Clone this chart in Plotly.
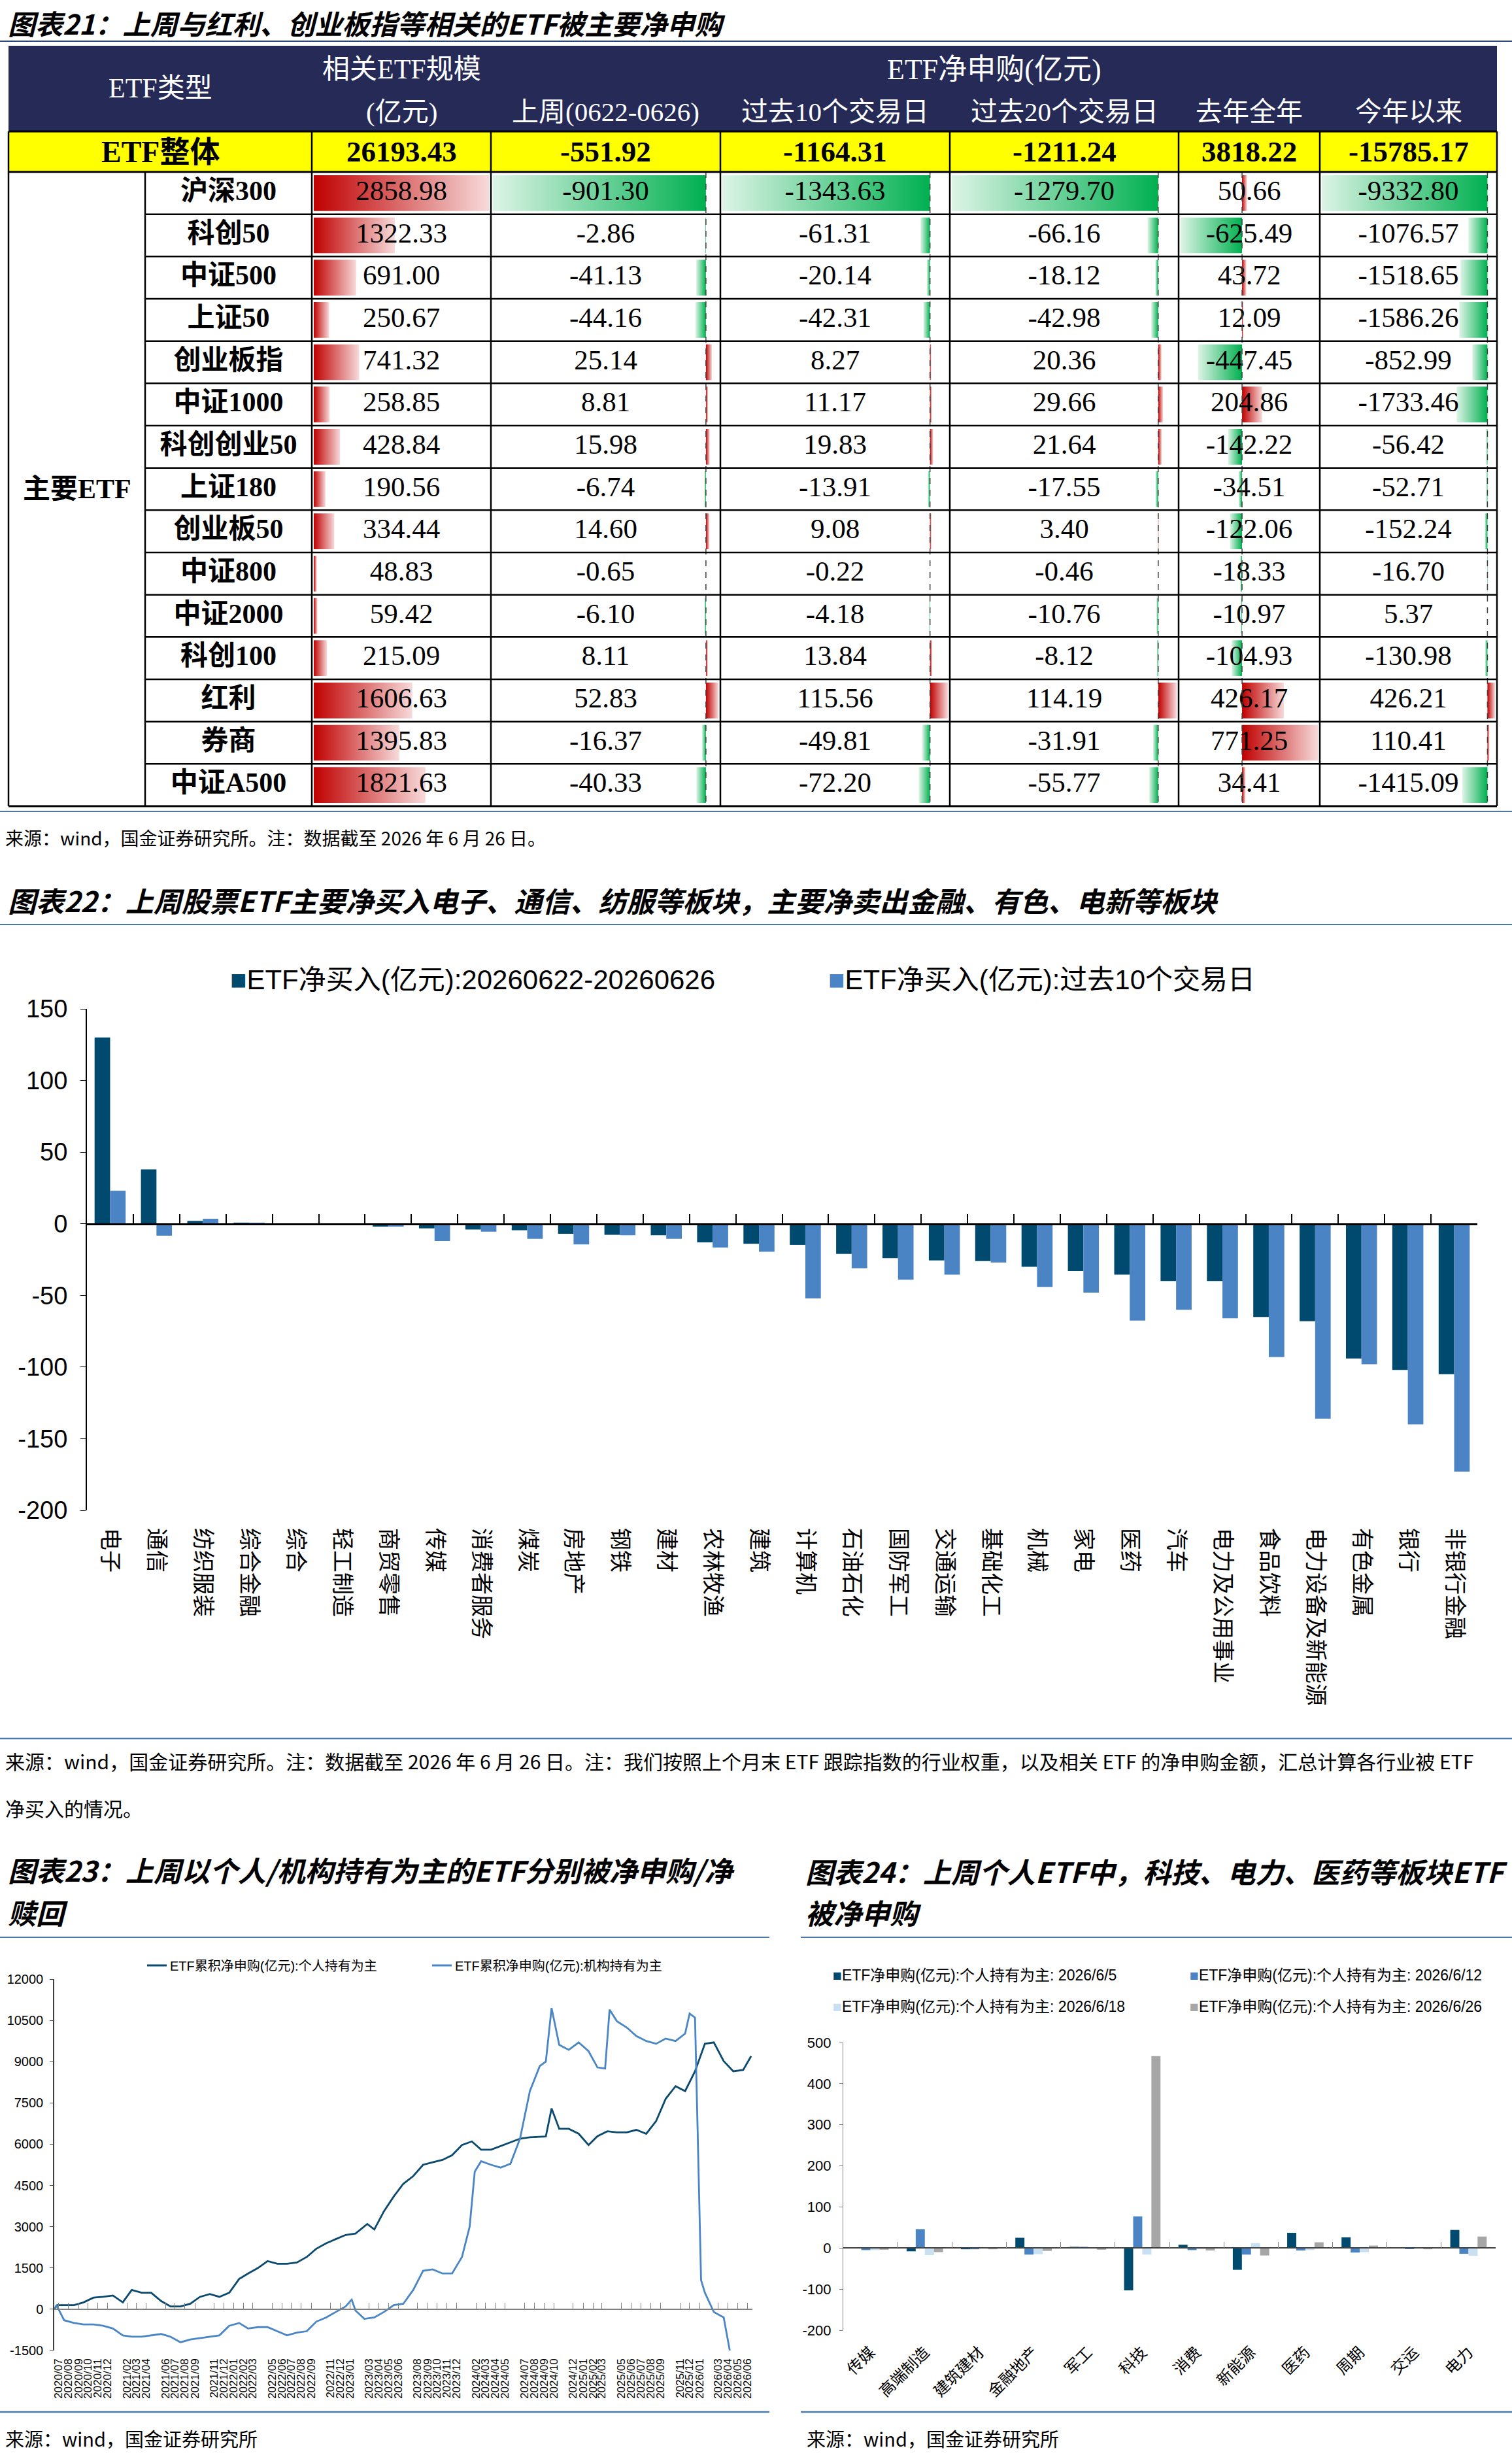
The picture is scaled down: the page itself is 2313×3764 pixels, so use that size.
import plotly.graph_objects as go

W, H = 2313, 3764

# ---------- 图表21：表格数据 ----------
etf_names = ["沪深300", "科创50", "中证500", "上证50", "创业板指", "中证1000", "科创创业50",
             "上证180", "创业板50", "中证800", "中证2000", "科创100", "红利", "券商", "中证A500"]
etf_scale = [2858.98, 1322.33, 691.00, 250.67, 741.32, 258.85, 428.84, 190.56, 334.44,
             48.83, 59.42, 215.09, 1606.63, 1395.83, 1821.63]
last_week = [-901.30, -2.86, -41.13, -44.16, 25.14, 8.81, 15.98, -6.74, 14.60,
             -0.65, -6.10, 8.11, 52.83, -16.37, -40.33]
past10 = [-1343.63, -61.31, -20.14, -42.31, 8.27, 11.17, 19.83, -13.91, 9.08,
          -0.22, -4.18, 13.84, 115.56, -49.81, -72.20]
past20 = [-1279.70, -66.16, -18.12, -42.98, 20.36, 29.66, 21.64, -17.55, 3.40,
          -0.46, -10.76, -8.12, 114.19, -31.91, -55.77]
last_year = [50.66, -625.49, 43.72, 12.09, -447.45, 204.86, -142.22, -34.51, -122.06,
             -18.33, -10.97, -104.93, 426.17, 771.25, 34.41]
ytd = [-9332.80, -1076.57, -1518.65, -1586.26, -852.99, -1733.46, -56.42, -52.71, -152.24,
       -16.70, 5.37, -130.98, 426.21, 110.41, -1415.09]
total_row = [26193.43, -551.92, -1164.31, -1211.24, 3818.22, -15785.17]
head_sub = ["(亿元)", "上周(0622-0626)", "过去10个交易日", "过去20个交易日", "去年全年", "今年以来"]

# ---------- 图表22 ----------
ind22 = ["电子", "通信", "纺织服装", "综合金融", "综合", "轻工制造", "商贸零售", "传媒", "消费者服务",
         "煤炭", "房地产", "钢铁", "建材", "农林牧渔", "建筑", "计算机", "石油石化", "国防军工",
         "交通运输", "基础化工", "机械", "家电", "医药", "汽车", "电力及公用事业", "食品饮料",
         "电力设备及新能源", "有色金属", "银行", "非银行金融"]
week22 = [130, 38, 2, 0.5, -0.5, -1, -2, -3.2, -4, -4.5, -7, -7.7, -8, -13, -14, -14.7, -21,
          -24, -25.6, -26, -30, -33, -35.5, -40, -40, -65, -68, -94, -102, -105]
days10_22 = [23, -8.3, 3.5, 0.5, -0.5, -1, -2, -12, -5.5, -10.5, -14.4, -8, -10.5, -16.6, -19.5,
             -52, -31, -39, -35.5, -27, -44, -48, -67.5, -60, -66, -93, -136, -98, -140, -173]
y22_ticks = [-200, -150, -100, -50, 0, 50, 100, 150]

# ---------- 图表23 ----------
personal_dates = ["2020-07-01", "2020-07-10", "2020-08-01", "2020-09-01", "2020-10-01", "2020-11-01",
                  "2020-12-01", "2021-01-01", "2021-02-01", "2021-03-01", "2021-04-01", "2021-05-01",
                  "2021-06-01", "2021-07-01", "2021-08-01", "2021-09-01", "2021-10-01", "2021-11-01",
                  "2021-12-01", "2022-01-01", "2022-02-01", "2022-03-01", "2022-04-01", "2022-05-01",
                  "2022-06-01", "2022-07-01", "2022-08-01", "2022-09-01", "2022-10-01", "2022-11-01",
                  "2022-12-01", "2023-01-01", "2023-02-01", "2023-03-01", "2023-03-10", "2023-04-01",
                  "2023-05-01", "2023-06-01", "2023-07-01", "2023-08-01", "2023-09-01", "2023-10-01",
                  "2023-11-01", "2023-12-01", "2024-01-01", "2024-02-01", "2024-03-01", "2024-04-01",
                  "2024-05-01", "2024-06-01", "2024-07-01", "2024-08-01", "2024-09-20", "2024-10-08",
                  "2024-11-01", "2024-12-01", "2025-01-01", "2025-02-01", "2025-03-01", "2025-04-01",
                  "2025-05-01", "2025-06-01", "2025-07-01", "2025-08-01", "2025-09-01", "2025-10-01",
                  "2025-11-01", "2025-12-01", "2026-01-01", "2026-02-01", "2026-03-01", "2026-04-01",
                  "2026-05-01", "2026-06-01", "2026-06-26"]
personal_vals = [0, 150, 150, 150, 250, 420, 450, 500, 250, 700, 600, 600, 300, 100, 100, 200, 450, 550,
                 450, 600, 1100, 1300, 1500, 1750, 1650, 1650, 1700, 1900, 2200, 2400, 2550, 2700, 2750,
                 3000, 3100, 2900, 3560, 4100, 4560, 4840, 5250, 5340, 5430, 5600, 5970, 6100, 5800, 5800,
                 5930, 6060, 6200, 6250, 6280, 7300, 6560, 6560, 6380, 5970, 6290, 6470, 6430, 6430, 6520,
                 6380, 6840, 7650, 8110, 7930, 8650, 9650, 9700, 9020, 8650, 8700, 9200]
inst_dates = ["2020-07-01", "2020-07-08", "2020-08-01", "2020-09-01", "2020-10-01", "2020-11-01",
              "2020-12-01", "2021-01-01", "2021-02-01", "2021-03-01", "2021-04-01", "2021-05-01",
              "2021-06-01", "2021-07-01", "2021-08-01", "2021-09-01", "2021-10-01", "2021-11-01",
              "2021-12-01", "2022-01-01", "2022-02-01", "2022-03-01", "2022-04-01", "2022-05-01",
              "2022-06-01", "2022-07-01", "2022-08-01", "2022-09-01", "2022-10-01", "2022-11-01",
              "2022-12-01", "2023-01-01", "2023-01-20", "2023-02-01", "2023-03-01", "2023-04-01",
              "2023-05-01", "2023-06-01", "2023-07-01", "2023-08-01", "2023-09-01", "2023-10-01",
              "2023-11-01", "2023-12-01", "2024-01-01", "2024-01-25", "2024-02-10", "2024-03-01",
              "2024-04-01", "2024-05-01", "2024-06-01", "2024-07-01", "2024-08-01", "2024-09-01",
              "2024-09-20", "2024-10-08", "2024-11-01", "2024-12-01", "2025-01-01", "2025-02-01",
              "2025-03-01", "2025-03-25", "2025-04-08", "2025-05-01", "2025-06-01", "2025-07-01",
              "2025-08-01", "2025-09-01", "2025-10-01", "2025-11-01", "2025-12-01", "2025-12-15",
              "2026-01-01", "2026-01-20", "2026-02-01", "2026-03-01", "2026-04-01", "2026-04-20"]
inst_vals = [0, 150, -400, -500, -550, -550, -600, -700, -950, -1000, -1000, -950, -900, -1000, -1200,
             -1100, -1050, -1000, -950, -600, -500, -700, -650, -650, -800, -950, -850, -800, -450, -300,
             -100, 100, 350, -50, -350, -300, -100, 150, 200, 700, 1400, 1450, 1300, 1300, 1900, 3000,
             5000, 5380, 5250, 5150, 5290, 6200, 7930, 8840, 9000, 10950, 9610, 9430, 9700, 9380, 8790,
             8750, 10890, 10470, 10240, 9930, 9750, 9650, 9840, 9750, 10020, 10750, 10600, 1060, 600,
             -100, -300, -1500]
x23_labels = ["2020/07", "2020/08", "2020/09", "2020/10", "2020/11", "2020/12", "2021/02", "2021/03",
              "2021/04", "2021/06", "2021/07", "2021/08", "2021/09", "2021/11", "2021/12", "2022/01",
              "2022/02", "2022/03", "2022/05", "2022/06", "2022/07", "2022/08", "2022/09", "2022/11",
              "2022/12", "2023/01", "2023/03", "2023/04", "2023/05", "2023/06", "2023/08", "2023/09",
              "2023/10", "2023/11", "2023/12", "2024/02", "2024/03", "2024/04", "2024/05", "2024/07",
              "2024/08", "2024/09", "2024/10", "2024/12", "2025/01", "2025/02", "2025/03", "2025/05",
              "2025/06", "2025/07", "2025/08", "2025/09", "2025/11", "2025/12", "2026/01", "2026/03",
              "2026/04", "2026/05", "2026/06"]
y23_ticks = [-1500, 0, 1500, 3000, 4500, 6000, 7500, 9000, 10500, 12000]

# ---------- 图表24 ----------
sect24 = ["传媒", "高端制造", "建筑建材", "金融地产", "军工", "科技", "消费", "新能源", "医药", "周期", "交运", "电力"]
s24_0605 = [2, -8, -3, 25, 3, -103, 8, -53, 37, 26, 2, 44]
s24_0612 = [-5, 46, -3, -16, 3, 77, -5, -16, -6, -11, -2, -14]
s24_0618 = [-5, -17, -1, -15, 1, -16, -3, 12, -5, -10, 1, -19]
s24_0626 = [-4, -10, -3, -7, -4, 467, -6, -18, 14, 6, -3, 28]
y24_ticks = [-200, -100, 0, 100, 200, 300, 400, 500]

# ---------- styles ----------
SERIF = "Liberation Serif, Noto Sans CJK SC"
SANS = "Liberation Sans, Noto Sans CJK SC"
NARROW = "Liberation Sans Narrow, Liberation Sans, Noto Sans CJK SC"
CJK = "Noto Sans CJK SC, Liberation Sans"
NAVY = "#262A57"
RED_D, RED_L = "#C00000", "#F7DADA"
GRN_D, GRN_L = "#00B050", "#DDF4E6"
C_DARK, C_MID, C_LIGHT, C_GREY = "#004A70", "#4A84C4", "#C9DFF2", "#A6A6A6"
SEP = "#4C7AA6"


def px(x):
    return x / W


def py(y):
    return 1 - y / H


fig = go.Figure()
ann, shp = [], []
lay = dict(
    width=W, height=H, margin=dict(l=0, r=0, t=0, b=0), template="none",
    paper_bgcolor="white", plot_bgcolor="rgba(0,0,0,0)", barmode="group", bargap=0.33, bargroupgap=0,
    showlegend=True, font=dict(family=SANS, color="black"),
    xaxis=dict(domain=[0, 1], range=[0, W], visible=False, fixedrange=True),
    yaxis=dict(domain=[0, 1], range=[H, 0], visible=False, fixedrange=True),
)


def note(x, y, text, size, color="black", family=SERIF, xanchor="center", weight="normal", style="normal"):
    ann.append(dict(x=x, y=y, xref="x", yref="y", text=text, showarrow=False, xanchor=xanchor,
                    yanchor="middle", font=dict(family=family, size=size, color=color, weight=weight, style=style)))


def line(x0, y0, x1, y1, color="black", w=2.5, dash="solid", xref="x"):
    shp.append(dict(type="line", x0=x0, y0=y0, x1=x1, y1=y1, xref=xref, yref="y",
                    line=dict(color=color, width=w, dash=dash), layer="above"))


# ---------- 图表21：表格 ----------
COL = [13, 222, 477, 751, 1102, 1453, 1803, 2019, 2290]
HEAD_TOP, HEAD_BOT, TOT_BOT, TAB_BOT = 70, 201, 263, 1233
ROW_H = (TAB_BOT - TOT_BOT) / len(etf_names)
row_mid = [TOT_BOT + (i + 0.5) * ROW_H for i in range(len(etf_names))]

shp.append(dict(type="rect", xref="x", yref="y", x0=COL[0], x1=COL[-1], y0=HEAD_TOP, y1=HEAD_BOT,
                fillcolor=NAVY, line=dict(width=0), layer="below"))
shp.append(dict(type="rect", xref="x", yref="y", x0=COL[0], x1=COL[-1], y0=HEAD_BOT, y1=TOT_BOT,
                fillcolor="#FFFF00", line=dict(width=0), layer="below"))

cols_data = [etf_scale, last_week, past10, past20, last_year, ytd]
for j, vals in enumerate(cols_data):
    ax = j + 2
    l, r = COL[j + 2], COL[j + 3]
    lo, hi = min(0, min(vals)), max(0, max(vals))
    lay[f"xaxis{ax}"] = dict(domain=[px(l + 3), px(r - 3)], range=[lo, hi], anchor="y",
                             visible=False, fixedrange=True)
    for i, v in enumerate(vals):
        top = TOT_BOT + i * ROW_H + 5
        bot = TOT_BOT + (i + 1) * ROW_H - 5
        if v >= 0:
            cs, start, stop, fc = [[0, RED_D], [1, RED_L]], 0, v, RED_D
        else:
            cs, start, stop, fc = [[0, GRN_L], [1, GRN_D]], v, 0, GRN_D
        fig.add_trace(go.Scatter(
            x=[0, v, v, 0, 0], y=[top, top, bot, bot, top], mode="lines", line=dict(width=0),
            fill="toself", fillcolor=fc,
            fillgradient=dict(type="horizontal", colorscale=cs, start=start, stop=stop),
            xaxis=f"x{ax}", yaxis="y", hoverinfo="skip", showlegend=False))
    fig.add_trace(go.Scatter(
        x=[(lo + hi) / 2] * len(vals), y=row_mid, text=[f"{v:.2f}" for v in vals], mode="text",
        textfont=dict(family=SERIF, size=43, color="black"), cliponaxis=False,
        xaxis=f"x{ax}", yaxis="y", hoverinfo="skip", showlegend=False))
    if j > 0:
        line(0, TOT_BOT, 0, TAB_BOT, color="#404040", w=1.5, dash="dash", xref=f"x{ax}")

fig.add_trace(go.Scatter(
    x=[(COL[1] + COL[2]) / 2] * len(etf_names), y=row_mid, text=etf_names, mode="text",
    textfont=dict(family=SERIF, size=42, color="black", weight="bold"), cliponaxis=False,
    xaxis="x", yaxis="y", hoverinfo="skip", showlegend=False))

# header text
note((COL[0] + COL[2]) / 2, 135, "ETF类型", 42, "white")
note((COL[2] + COL[3]) / 2, 106, "相关ETF规模", 42, "white")
note((COL[3] + COL[8]) / 2, 106, "ETF净申购(亿元)", 44, "white")
for j, t in enumerate(head_sub):
    note((COL[j + 2] + COL[j + 3]) / 2, 171, t, 41, "white")
note((COL[0] + COL[2]) / 2, 232, "ETF整体", 46, weight="bold")
for j, v in enumerate(total_row):
    note((COL[j + 2] + COL[j + 3]) / 2, 232, f"{v:.2f}", 45, weight="bold")
note((COL[0] + COL[1]) / 2, (TOT_BOT + TAB_BOT) / 2, "主要ETF", 42, weight="bold")

# grid
for y in (HEAD_BOT, TOT_BOT, TAB_BOT):
    line(COL[0], y, COL[-1], y, w=3)
for i in range(1, len(etf_names)):
    y = TOT_BOT + i * ROW_H
    line(COL[1], y, COL[-1], y)
for x in (COL[0], COL[-1]):
    line(x, HEAD_BOT, x, TAB_BOT)
for x in COL[2:-1]:
    line(x, HEAD_BOT, x, TAB_BOT)
line(COL[1], TOT_BOT, COL[1], TAB_BOT)

# titles / separators / sources
note(10, 34, "图表21：上周与红利、创业板指等相关的ETF被主要净申购", 42, family=CJK, xanchor="left",
     weight="bold", style="italic")
line(0, 63, W, 63, color="#2E4A75", w=2)
line(0, 1241, W, 1241, color=SEP, w=2)
note(6, 1281, "来源：wind，国金证券研究所。注：数据截至 2026 年 6 月 26 日。", 28, family=CJK, xanchor="left")
note(10, 1376, "图表22：上周股票ETF主要净买入电子、通信、纺服等板块，主要净卖出金融、有色、电新等板块", 43,
     family=CJK, xanchor="left", weight="bold", style="italic")
line(0, 1414, W, 1414, color=SEP, w=2)
line(0, 2659, W, 2659, color=SEP, w=2.5)
note(6, 2693, "来源：wind，国金证券研究所。注：数据截至 2026 年 6 月 26 日。注：我们按照上个月末 ETF 跟踪指数的行业权重，"
     "以及相关 ETF 的净申购金额，汇总计算各行业被 ETF", 30, family=CJK, xanchor="left")
note(6, 2765, "净买入的情况。", 30, family=CJK, xanchor="left")
note(10, 2859, "图表23：上周以个人/机构持有为主的ETF分别被净申购/净", 43, family=CJK, xanchor="left",
     weight="bold", style="italic")
note(10, 2924, "赎回", 43, family=CJK, xanchor="left", weight="bold", style="italic")
note(1230, 2861, "图表24：上周个人ETF中，科技、电力、医药等板块ETF", 43, family=CJK, xanchor="left",
     weight="bold", style="italic")
note(1230, 2924, "被净申购", 43, family=CJK, xanchor="left", weight="bold", style="italic")
line(0, 2963, 1177, 2963, color=SEP, w=2)
line(1225, 2963, W, 2963, color=SEP, w=2)
line(0, 3689, 1177, 3689, color=SEP, w=2.5)
line(1225, 3689, W, 3689, color=SEP, w=2.5)
note(6, 3729, "来源：wind，国金证券研究所", 29, family=CJK, xanchor="left")
note(1232, 3729, "来源：wind，国金证券研究所", 29, family=CJK, xanchor="left")

# ---------- 图表22：柱状图 ----------
fig.add_trace(go.Bar(x=ind22, y=week22, name="ETF净买入(亿元):20260622-20260626", marker_color=C_DARK,
                     xaxis="x8", yaxis="y8", showlegend=False))
fig.add_trace(go.Bar(x=ind22, y=days10_22, name="ETF净买入(亿元):过去10个交易日", marker_color=C_MID,
                     xaxis="x8", yaxis="y8", showlegend=False))
fig.add_trace(go.Scatter(x=ind22, y=[0] * len(ind22), mode="markers", marker=dict(opacity=0),
                         xaxis="x9", yaxis="y8", hoverinfo="skip", showlegend=False))
y8_dom = [py(2310), py(1543)]
zero8 = y8_dom[0] + (0 - y22_ticks[0]) / (y22_ticks[-1] - y22_ticks[0]) * (y8_dom[1] - y8_dom[0])
lay["xaxis8"] = dict(domain=[px(133), px(2260)], anchor="y8", type="category", range=[-0.5, len(ind22) - 0.5],
                     categoryorder="array", categoryarray=ind22, showline=False, ticks="", showgrid=False,
                     zeroline=False, tickangle=90, ticklabelstandoff=26,
                     tickfont=dict(family=CJK, size=34, color="black"))
lay["xaxis9"] = dict(overlaying="x8", anchor="free", position=zero8, type="category",
                     range=[-0.5, len(ind22) - 0.5], categoryorder="array", categoryarray=ind22,
                     showline=True, linecolor="black", linewidth=2.5, ticks="inside", tickson="boundaries",
                     ticklen=14, tickwidth=2, tickcolor="black", showticklabels=False, showgrid=False,
                     zeroline=False)
lay["yaxis8"] = dict(domain=y8_dom, anchor="x8", range=[y22_ticks[0], y22_ticks[-1]], tickvals=y22_ticks,
                     ticktext=[str(v) for v in y22_ticks], showline=True, linecolor="black", linewidth=2,
                     ticks="outside", ticklen=8, tickcolor="black", showgrid=False, zeroline=False,
                     ticklabelstandoff=12, tickfont=dict(family=SANS, size=38, color="black"))
note(350, 1498, f'<span style="color:{C_DARK}">■</span>ETF净买入(亿元):20260622-20260626', 42,
     family=SANS, xanchor="left")
note(1265, 1498, f'<span style="color:{C_MID}">■</span>ETF净买入(亿元):过去10个交易日', 42,
     family=SANS, xanchor="left")

# ---------- 图表23：折线图 ----------
x23_vals = [t.replace("/", "-") + "-15" for t in x23_labels]
fig.add_trace(go.Scatter(x=personal_dates, y=personal_vals, mode="lines", name="ETF累积净申购(亿元):个人持有为主",
                         line=dict(color="#0B4A6E", width=2.8), xaxis="x10", yaxis="y10", legend="legend2"))
fig.add_trace(go.Scatter(x=inst_dates, y=inst_vals, mode="lines", name="ETF累积净申购(亿元):机构持有为主",
                         line=dict(color="#4A86C5", width=2.8), xaxis="x10", yaxis="y10", legend="legend2"))
fig.add_trace(go.Scatter(x=[personal_dates[0]], y=[0], mode="markers", marker=dict(opacity=0),
                         xaxis="x11", yaxis="y10", hoverinfo="skip", showlegend=False))
y10_dom = [py(3595), py(3027)]
zero10 = y10_dom[0] + (0 - y23_ticks[0]) / (y23_ticks[-1] - y23_ticks[0]) * (y10_dom[1] - y10_dom[0])
x23_range = ["2020-07-01", "2026-06-30"]
lay["xaxis10"] = dict(domain=[px(83), px(1151)], anchor="y10", type="date", range=x23_range,
                      tickvals=x23_vals, ticktext=x23_labels, tickangle=-90, showline=False, ticks="",
                      showgrid=False, zeroline=False, ticklabelstandoff=8,
                      tickfont=dict(family=SANS, size=17, color="black"))
lay["xaxis11"] = dict(overlaying="x10", anchor="free", position=zero10, type="date", range=x23_range,
                      tickvals=x23_vals, showticklabels=False, showline=True, linecolor="#808080",
                      linewidth=1.5, ticks="inside", ticklen=9, tickcolor="#808080", showgrid=False,
                      zeroline=False)
lay["yaxis10"] = dict(domain=y10_dom, anchor="x10", range=[y23_ticks[0], y23_ticks[-1]], tickvals=y23_ticks,
                      ticktext=[str(v) for v in y23_ticks], showline=True, linecolor="#404040", linewidth=1.5,
                      ticks="outside", ticklen=5, showgrid=False, zeroline=False, ticklabelstandoff=6,
                      tickfont=dict(family=NARROW, size=20, color="black"))
lay["legend2"] = dict(orientation="h", x=px(220), xanchor="left", y=py(3006), yanchor="middle",
                      entrywidth=391, entrywidthmode="pixels", bgcolor="rgba(0,0,0,0)",
                      font=dict(family=NARROW, size=20, color="black"))

# ---------- 图表24：柱状图 ----------
names24 = ["ETF净申购(亿元):个人持有为主: 2026/6/5", "ETF净申购(亿元):个人持有为主: 2026/6/12",
           "ETF净申购(亿元):个人持有为主: 2026/6/18", "ETF净申购(亿元):个人持有为主: 2026/6/26"]
colors24 = [C_DARK, C_MID, C_LIGHT, C_GREY]
for nm, vals, c in zip(names24, [s24_0605, s24_0612, s24_0618, s24_0626], colors24):
    fig.add_trace(go.Bar(x=sect24, y=vals, name=nm, marker_color=c, xaxis="x12", yaxis="y12", showlegend=False))
fig.add_trace(go.Scatter(x=sect24, y=[0] * len(sect24), mode="markers", marker=dict(opacity=0),
                         xaxis="x13", yaxis="y12", hoverinfo="skip", showlegend=False))
y12_dom = [py(3564), py(3124)]
zero12 = y12_dom[0] + (0 - y24_ticks[0]) / (y24_ticks[-1] - y24_ticks[0]) * (y12_dom[1] - y12_dom[0])
lay["xaxis12"] = dict(domain=[px(1290), px(2288)], anchor="y12", type="category", range=[-0.5, len(sect24) - 0.5],
                      categoryorder="array", categoryarray=sect24, showline=False, ticks="", showgrid=False,
                      zeroline=False, tickangle=-45, ticklabelstandoff=14,
                      tickfont=dict(family=CJK, size=24, color="black"))
lay["xaxis13"] = dict(overlaying="x12", anchor="free", position=zero12, type="category",
                      range=[-0.5, len(sect24) - 0.5], categoryorder="array", categoryarray=sect24,
                      showline=True, linecolor="#404040", linewidth=1.5, ticks="inside", tickson="boundaries",
                      ticklen=9, tickcolor="#808080", showticklabels=False, showgrid=False, zeroline=False)
lay["yaxis12"] = dict(domain=y12_dom, anchor="x12", range=[y24_ticks[0], y24_ticks[-1]], tickvals=y24_ticks,
                      ticktext=[str(v) for v in y24_ticks], showline=True, linecolor="#808080", linewidth=1.2,
                      ticks="outside", ticklen=5, tickcolor="#808080", showgrid=False, zeroline=False,
                      ticklabelstandoff=8, tickfont=dict(family=NARROW, size=22, color="black"))
for k, (nm, c) in enumerate(zip(names24, colors24)):
    note(1272 + (k % 2) * 546, 3021 + (k // 2) * 48, f'<span style="color:{c}">■</span>{nm}', 23,
         family=NARROW, xanchor="left")

lay["annotations"] = ann
lay["shapes"] = shp
fig.update_layout(**lay)

fig.write_html("out.html", config={"displayModeBar": False},
               post_script="document.body.style.margin='0';")
